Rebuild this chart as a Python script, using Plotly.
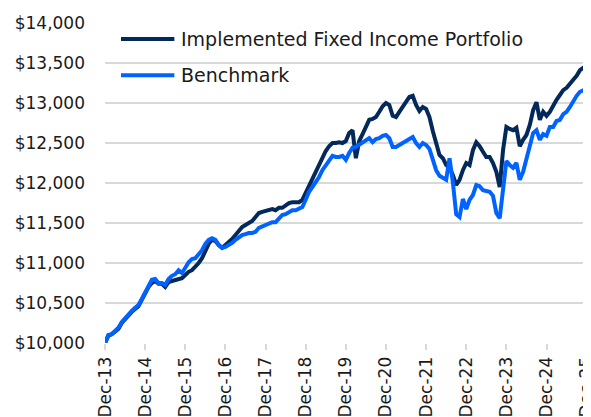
import pandas as pd
import plotly.graph_objects as go

months = [d.strftime("%b-%y") for d in pd.date_range("2013-12-31", periods=146, freq="ME")]

portfolio = [
    10000, 10090, 10110, 10140, 10175, 10250, 10300, 10340, 10390, 10425, 10460, 10540,
    10625, 10700, 10750, 10775, 10740, 10740, 10700, 10760, 10775, 10790, 10800, 10810,
    10850, 10890, 10910, 10950, 11000, 11060, 11150, 11240, 11290, 11275, 11225, 11190,
    11225, 11260, 11300, 11350, 11400, 11450, 11475, 11500, 11525, 11575, 11625, 11640,
    11650, 11660, 11675, 11660, 11690, 11690, 11725, 11750, 11760, 11760, 11760, 11790,
    11875, 11960, 12060, 12150, 12240, 12325, 12400, 12460, 12500, 12500, 12510, 12500,
    12525, 12625, 12660, 12310, 12525, 12610, 12700, 12790, 12800, 12825, 12890, 12960,
    13000, 12975, 12840, 12825, 12890, 12950, 13010, 13075, 13090, 12975, 12900, 12950,
    12925, 12825, 12650, 12475, 12350, 12310, 12225, 12190, 12100, 11975, 12040, 12160,
    12250, 12225, 12410, 12510, 12460, 12390, 12325, 12325, 12250, 12140, 11950, 12410,
    12700, 12675, 12660, 12690, 12460, 12540, 12600, 12725, 12910, 13010, 12790, 12890,
    12840, 12890, 12975, 13040, 13100, 13160, 13190, 13250, 13290, 13340, 13410, 13440,
    13390, 13560,
]

benchmark = [
    10000, 10100, 10110, 10150, 10190, 10260, 10310, 10350, 10400, 10440, 10475, 10550,
    10640, 10710, 10790, 10800, 10750, 10750, 10725, 10800, 10840, 10860, 10910, 10875,
    10940, 11010, 11050, 11060, 11110, 11160, 11240, 11290, 11310, 11290, 11225, 11190,
    11200, 11225, 11250, 11290, 11325, 11350, 11360, 11375, 11375, 11390, 11440, 11460,
    11475, 11490, 11510, 11510, 11550, 11600, 11610, 11640, 11660, 11660, 11675, 11700,
    11790, 11890, 11950, 12010, 12075, 12160, 12225, 12290, 12340, 12325, 12325, 12340,
    12290, 12375, 12440, 12450, 12475, 12500, 12525, 12560, 12510, 12550, 12560, 12590,
    12600, 12560, 12450, 12450, 12475, 12500, 12525, 12560, 12575, 12500, 12450, 12500,
    12475, 12425, 12310, 12160, 12090, 12060, 12040, 12310, 12010, 11610, 11575, 11800,
    11675, 11790, 11850, 11975, 11960, 11910, 11900, 11890, 11840, 11625, 11560, 11975,
    12275, 12225, 12190, 12250, 12040, 12140, 12290, 12475, 12625, 12660, 12540, 12610,
    12590, 12700, 12700, 12775, 12790, 12860, 12890, 12950, 13025, 13090, 13140, 13160,
    13140, 13300,
]

series_names = ["Implemented Fixed Income Portfolio", "Benchmark"]
series_colors = ["#03285a", "#0062ff"]

tick_months = [m for m in months if m.startswith("Dec")]

FONT = "DejaVu Sans"
TXT = "#1a1a1a"
GRID = "#d9d9d9"

fig = go.Figure()
for name, vals, col in zip(series_names, [portfolio, benchmark], series_colors):
    fig.add_trace(go.Scatter(
        x=months, y=vals, mode="lines", name=name,
        line=dict(color=col, width=4), showlegend=False,
    ))

# custom legend (longer line samples, like the original)
legend_y = [0.95, 0.837]
for name, col, ly in zip(series_names, series_colors, legend_y):
    fig.add_shape(type="line", xref="paper", yref="paper",
                  x0=0.033, x1=0.143, y0=ly, y1=ly,
                  line=dict(color=col, width=4))
    fig.add_annotation(xref="paper", yref="paper", x=0.153, y=ly,
                       xanchor="left", yanchor="middle", showarrow=False,
                       text=name, font=dict(family=FONT, size=19, color=TXT))

fig.update_layout(
    width=583, height=409,
    margin=dict(l=97, r=1, t=15, b=74, autoexpand=False),
    paper_bgcolor="white", plot_bgcolor="white",
    font=dict(family=FONT, size=17, color=TXT),
    showlegend=False,
)
fig.update_xaxes(
    type="category", categoryorder="array", categoryarray=months,
    range=[0, len(months) - 1], automargin=False,
    tickmode="array", tickvals=tick_months, ticktext=tick_months,
    tickangle=-90, ticks="outside", ticklen=6, tickwidth=1.5, tickcolor=GRID,
    showgrid=False, showline=False, zeroline=False,
    tickfont=dict(family=FONT, size=17, color=TXT),
)
fig.update_yaxes(
    range=[10000, 14000], dtick=500, tickformat="$,.0f", automargin=False,
    showgrid=True, gridcolor=GRID, gridwidth=2, zeroline=False, showline=False,
    ticks="", ticklabelstandoff=19,
    tickfont=dict(family=FONT, size=17, color=TXT),
)

fig.write_html("out.html")
